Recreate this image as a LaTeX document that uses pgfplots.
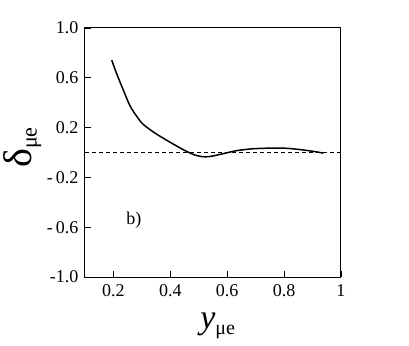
\documentclass[border=0pt]{standalone}
\usepackage{fontspec}
\setmainfont{Liberation Serif}
\usepackage{pgfplots}
\pgfplotsset{compat=1.18}
\begin{document}
\begin{tikzpicture}
\begin{axis}[
  at={(0,0)}, anchor=south west,
  width=256pt, height=249pt, scale only axis,
  xmin=0.1, xmax=1, ymin=-1, ymax=1,
  axis line style={line width=1pt},
  tick align=inside,
  xtick pos=bottom, ytick pos=left,
  major tick length=6pt,
  tick style={line width=0.8pt, black},
  xtick={0.2,0.4,0.6,0.8,1},
  xticklabels={0.2,0.4,0.6,0.8,1},
  ytick={-1,-0.6,-0.2,0.2,0.6,1},
  yticklabels={-1.0,-\,0.6,-\,0.2,0.2,0.6,1.0},
  ticklabel style={font=\fontsize{18}{20}\selectfont},
  xticklabel style={yshift=-4pt},
  yticklabel style={xshift=-3pt},
  xlabel={\fontsize{34}{36}\selectfont\itshape y\raisebox{-0.35ex}{\upshape\fontsize{20}{22}\selectfont μe}},
  xlabel style={at={(axis description cs:0.518,-0.197)}, anchor=center},
  ylabel={\fontsize{40}{44}\selectfont δ\raisebox{-0.3ex}{\fontsize{22}{24}\selectfont μe}},
  ylabel style={at={(axis description cs:-0.245,0.52)}, anchor=center, inner sep=0pt},
]
\addplot[black, line width=0.7pt, dash pattern=on 4pt off 3pt, forget plot] coordinates {(0.1,0) (1,0)};
\addplot[black, line width=1.5pt, smooth] coordinates {
(0.194,0.742) (0.21,0.64) (0.235,0.50) (0.255,0.39) (0.27,0.33) (0.29,0.265)
(0.305,0.225) (0.34,0.165) (0.375,0.115) (0.41,0.068) (0.446,0.022) (0.47,-0.005)
(0.493,-0.025) (0.52,-0.035) (0.545,-0.03) (0.575,-0.015) (0.60,-0.002) (0.633,0.015)
(0.69,0.030) (0.75,0.035) (0.80,0.035) (0.85,0.025) (0.90,0.010) (0.938,-0.005)
};
\node[font=\fontsize{18}{20}\selectfont] at (axis cs:0.272,-0.54) {b)};
\end{axis}
\pgfresetboundingbox
\path (-85pt,-68pt) rectangle (324pt,277pt);
\end{tikzpicture}
\end{document}
